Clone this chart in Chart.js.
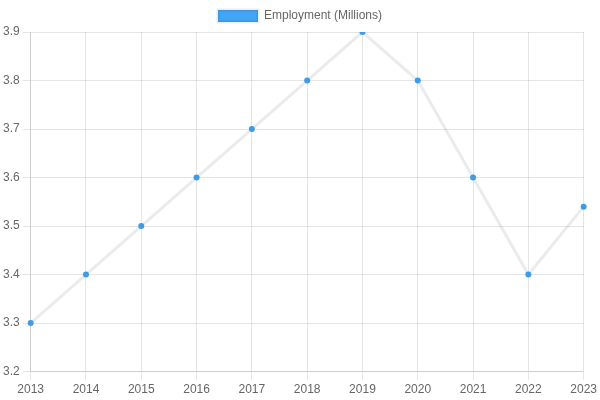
<!DOCTYPE html>
<html>
<head>
<meta charset="utf-8">
<script src="https://cdn.jsdelivr.net/npm/chart.js@4"></script>
<style>
  html, body { margin: 0; padding: 0; background: #fff; }
  .wrap { width: 600px; height: 400px; }
</style>
</head>
<body>
<div class="wrap"><canvas id="myChart"></canvas></div>
<script>
const years = ["2013", "2014", "2015", "2016", "2017", "2018", "2019", "2020", "2021", "2022", "2023"];
const employment = [3.3, 3.4, 3.5, 3.6, 3.7, 3.8, 3.9, 3.8, 3.6, 3.4, 3.54];

Chart.defaults.font.family = "'Liberation Sans', Arial, sans-serif";
Chart.defaults.font.size = 12;
Chart.defaults.color = "#666";

const ctx = document.getElementById("myChart").getContext("2d");
new Chart(ctx, {
  type: "line",
  data: {
    labels: years,
    datasets: [
      {
        label: "Employment (Millions)",
        data: employment,
        backgroundColor: "#42A5F5",
        borderColor: "rgba(0,0,0,0.08)",
        pointBackgroundColor: "#3E9BE6",
        pointBorderColor: "#3E9BE6",
        pointBorderWidth: 0,
        borderWidth: 3,
        pointRadius: 3,
        fill: false,
        tension: 0,
      },
    ],
  },
  options: {
    responsive: true,
    maintainAspectRatio: false,
    animation: false,
    layout: { padding: 0 },
    plugins: {
      legend: { display: true },
      tooltip: { enabled: false },
    },
    scales: {
      x: {
        grid: { color: "rgba(0,0,0,0.1)" },
        ticks: { color: "#666" },
      },
      y: {
        min: 3.2,
        max: 3.9,
        ticks: { stepSize: 0.1, color: "#666" },
        grid: { color: "rgba(0,0,0,0.1)" },
      },
    },
  },
});
</script>
</body>
</html>
